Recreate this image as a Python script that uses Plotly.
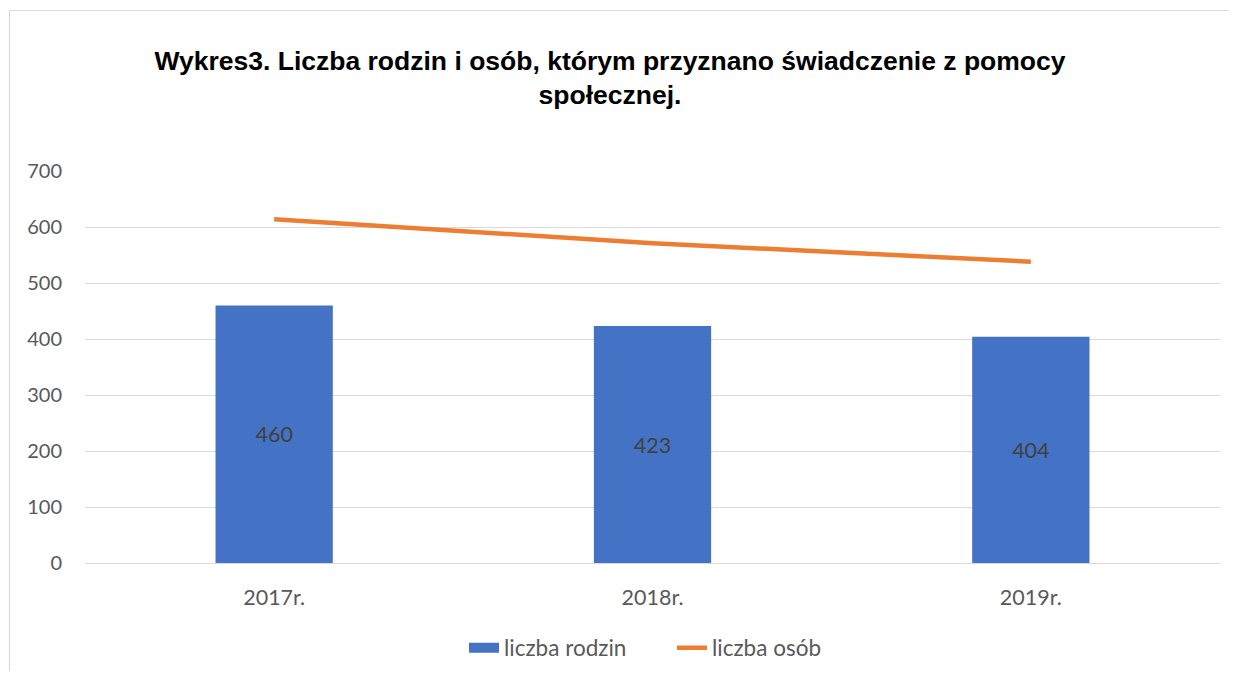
import plotly.graph_objects as go

categories = ["2017r.", "2018r.", "2019r."]
rodziny = [460, 423, 404]
osoby = [614, 571, 538]
y_ticks = [0, 100, 200, 300, 400, 500, 600, 700]

title_text = "Wykres3. Liczba rodzin i osób, którym przyznano świadczenie z pomocy<br>społecznej."

# page body has an 8px margin, so figure coordinates = screen coordinates - 8
OFF = 8
W, H = 1236 - 2 * OFF, 679 - 2 * OFF
L, R, T, B = 85 - OFF, W - (1220 - OFF), 171 - OFF, H - (563 - OFF)
plot_w = W - L - R
plot_h = H - T - B

def px_x(px):
    return (px - OFF - L) / plot_w

def px_y(py):
    return (H - B - (py - OFF)) / plot_h

def cx(px):
    return (px - OFF) / W

def cy(py):
    return 1 - (py - OFF) / H

BLUE = "#4472C4"
ORANGE = "#ED7D31"
FONT = "Lato, sans-serif"

fig = go.Figure()
fig.add_trace(go.Bar(
    x=categories, y=rodziny, name="liczba rodzin", legendgroup="r",
    showlegend=False,
    marker=dict(color=BLUE, line=dict(width=0)),
    text=[str(v) for v in rodziny], textposition="inside",
    insidetextanchor="middle",
    textfont=dict(family=FONT, size=21.5, color="#404040"),
))
# legend entry drawn as a wide rectangle like the original
fig.add_trace(go.Scatter(
    x=[None], y=[None], name="liczba rodzin", legendgroup="r", mode="lines",
    line=dict(color=BLUE, width=12), hoverinfo="skip",
))
fig.add_trace(go.Scatter(
    x=categories, y=osoby, name="liczba osób", mode="lines",
    line=dict(color=ORANGE, width=4.5, shape="spline", smoothing=0.6),
))

fig.update_layout(
    width=W, height=H,
    margin=dict(l=L, r=R, t=T, b=B, autoexpand=False),
    paper_bgcolor="white", plot_bgcolor="white",
    bargap=0.69,
    title=dict(text=title_text, x=cx(610), xref="container", xanchor="center",
               y=cy(70), yanchor="middle",
               font=dict(family="Liberation Sans, Arial, sans-serif", size=26.5,
                         color="#000000", weight="bold")),
    font=dict(family=FONT, size=20, color="#595959"),
    showlegend=True,
    legend=dict(orientation="h", xref="container", yref="container",
                x=cx(464), xanchor="left", y=cy(648), yanchor="middle",
                font=dict(family=FONT, size=22.5, color="#595959"),
                entrywidth=163, traceorder="normal"),
    xaxis=dict(showline=False, ticks="", showgrid=False, ticklabelstandoff=19,
               tickfont=dict(family=FONT, size=21.5, color="#595959")),
    yaxis=dict(range=[0, 700], tickvals=y_ticks, showgrid=True, gridcolor="#D9D9D9",
               gridwidth=1, zeroline=True, zerolinecolor="#D9D9D9", zerolinewidth=1,
               showline=False, ticks="", ticklabelstandoff=22,
               tickfont=dict(family=FONT, size=20, color="#595959")),
    shapes=[dict(type="rect", xref="paper", yref="paper",
                 x0=px_x(9.5), x1=px_x(1250), y0=px_y(700), y1=px_y(10.5),
                 line=dict(color="#D9D9D9", width=1.2), fillcolor="rgba(0,0,0,0)",
                 layer="below")],
)

fig.write_html("out.html")
